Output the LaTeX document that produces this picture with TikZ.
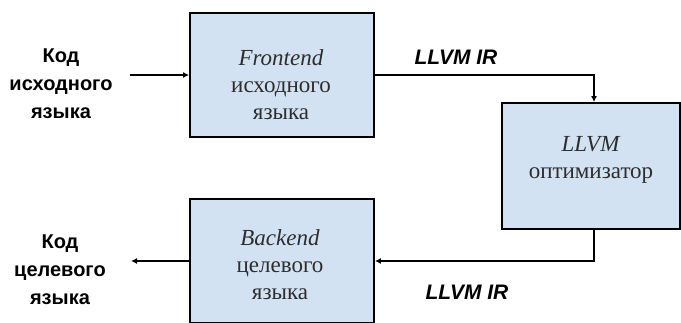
\documentclass[tikz,border=0pt]{standalone}
\usepackage{fontspec}
\setmainfont{Liberation Serif}
\setsansfont{Liberation Sans}
\usetikzlibrary{arrows.meta}
\definecolor{boxfill}{RGB}{211,226,243}
\definecolor{boxtext}{RGB}{45,45,45}
\tikzset{
  blk/.style={draw=black, line width=1.8pt, fill=boxfill, rectangle, inner sep=0pt},
  blktext/.style={align=center, text=boxtext, font=\fontsize{23}{27}\selectfont, inner sep=0pt},
  sidelbl/.style={align=center, font=\sffamily\bfseries\fontsize{20}{28}\selectfont, inner sep=0pt},
  irlbl/.style={font=\sffamily\bfseries\itshape\fontsize{21}{24}\selectfont, inner sep=0pt},
  arr/.style={line width=1.8pt, -{Latex[length=6pt,width=6pt]}}
}
\begin{document}
\begin{tikzpicture}[x=1pt,y=-1pt]
\clip (0,0) rectangle (681,322);
\fill[white] (0,0) rectangle (681,322);
% boxes
\node[blk, minimum width=184pt, minimum height=124pt] (front) at (282,75) {};
\node[blk, minimum width=178pt, minimum height=126pt] (llvm) at (591,166) {};
\node[blk, minimum width=184pt, minimum height=124pt] (back) at (282,261) {};
% box texts
\node[blktext] (fronttxt) at (281,85) {\textit{Frontend}\\исходного\\языка};
\node[blktext] (llvmtxt) at (591,160) {\textit{LLVM}\\оптимизатор};
\node[blktext] (backtxt) at (280,265) {\textit{Backend}\\целевого\\языка};
% side labels
\node[sidelbl] (src) at (61,84) {Код\\исходного\\языка};
\node[sidelbl] (dst) at (60,270) {Код\\целевого\\языка};
\node[irlbl] (ir1) at (456,57) {LLVM IR};
\node[irlbl] (ir2) at (467,292) {LLVM IR};
% connectors
\coordinate (in1) at (130,75);
\coordinate (out1) at (131,261);
\draw[arr] (in1) -- (front.west);
\draw[arr] (front.east) -| ([xshift=3pt]llvm.north);
\draw[arr] ([xshift=3pt]llvm.south) |- (back.east);
\draw[arr] (back.west) -- (out1);
\end{tikzpicture}
\end{document}
